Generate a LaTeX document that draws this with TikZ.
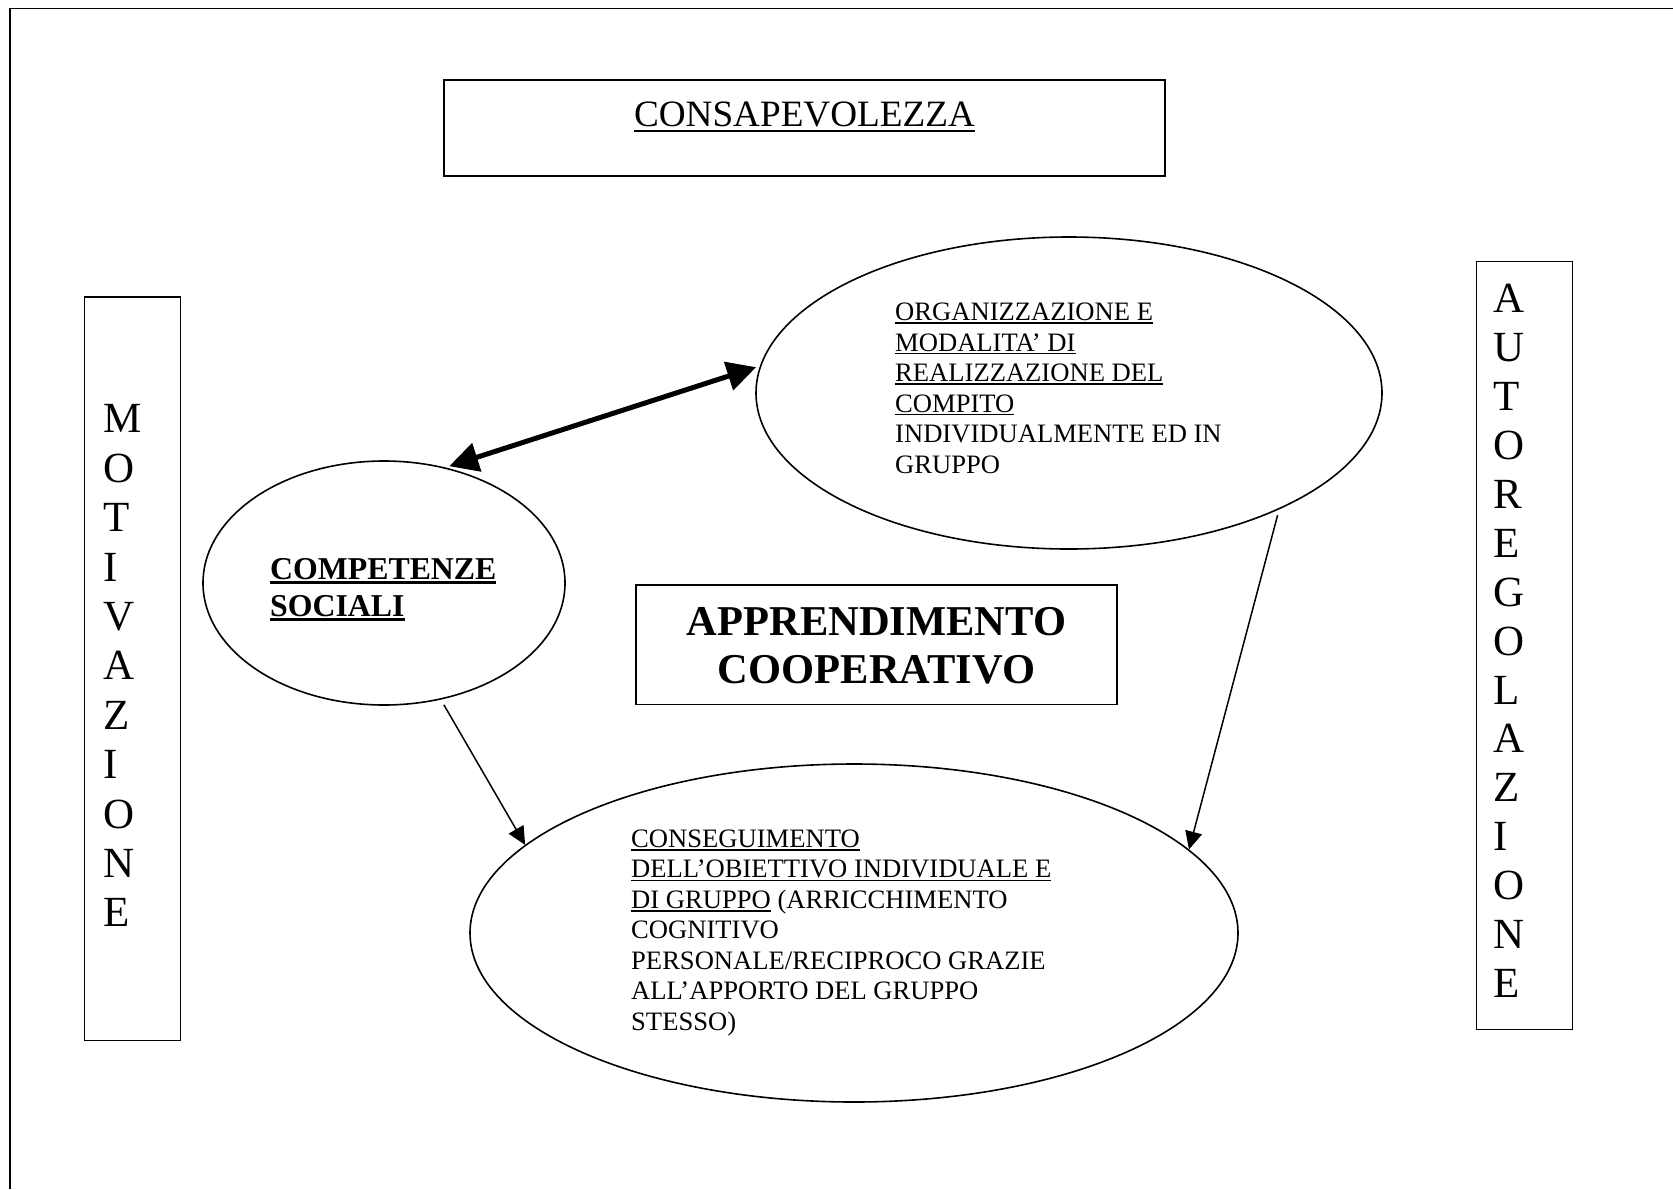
\documentclass[tikz,border=0pt]{standalone}
\usepackage{fontspec}
\setmainfont{Liberation Serif}
\usetikzlibrary{arrows.meta,shapes.geometric}
\newsavebox\ulsave
\newcommand{\ulx}[3]{\sbox\ulsave{#3}\rlap{\rule[-#1]{\wd\ulsave}{#2}}\usebox\ulsave}
\newcommand{\uls}[1]{\ulx{3.3pt}{1.7pt}{#1}}
\newcommand{\ulc}[1]{\ulx{5.3pt}{2.5pt}{#1}}
\newcommand{\ulb}[1]{\ulx{5pt}{3pt}{#1}}
\begin{document}
\begin{tikzpicture}[x=1pt,y=-1pt,
  boxst/.style={draw, line width=1.5pt, rectangle, inner sep=0pt},
  ell/.style={draw, line width=1.6pt, ellipse, inner sep=0pt},
  txt/.style={inner sep=0pt, align=left, anchor=north west,
    font=\fontsize{26.6}{30.5}\selectfont},
  vert/.style={inner sep=0pt, align=left, anchor=north west,
    font=\fontsize{43}{49.3}\selectfont},
  thinarrow/.style={line width=1.5pt, -{Triangle[length=18pt,width=17pt]}},
  thickarrow/.style={line width=5pt, {Triangle[length=29pt,width=29pt]}-{Triangle[length=29pt,width=29pt]}}
]
\useasboundingbox (0,0) rectangle (1673,1189);
% outer frame
\draw[line width=1.3pt] (10,1189) -- (10,8.5) -- (1673,8.5);

% boxes
\node[boxst, minimum width=721pt, minimum height=96pt] (consbox) at (804.5,128) {};
\node[inner sep=0pt, anchor=base, font=\fontsize{37.2}{42}\selectfont] (consT) at (804.5,126.7) {\ulc{CONSAPEVOLEZZA}};

\node[boxst, minimum width=96pt, minimum height=743.5pt] (motbox) at (132.3,668.5) {};
\node[vert, font=\fontsize{43}{49.4}\selectfont] (motT) at (103.5,404.5) {M\\O\\T\\I\\V\\A\\Z\\I\\O\\N\\E};

\node[boxst, minimum width=96pt, minimum height=768pt] (autbox) at (1524.7,645.5) {};
\node[vert, font=\fontsize{43}{48.9}\selectfont] (autT) at (1493.5,284.2) {A\\U\\T\\O\\R\\E\\G\\O\\L\\A\\Z\\I\\O\\N\\E};

\node[boxst, minimum width=481pt, minimum height=119.5pt] (appbox) at (876.5,644.5) {};
\node[inner sep=0pt, align=center, anchor=north, font=\fontsize{42.5}{48}\selectfont\bfseries] (appT) at (876.5,607.6) {APPRENDIMENTO\\COOPERATIVO};

% ellipses
\node[ell, minimum width=626pt, minimum height=312pt] (org) at (1069,393) {};
\node[txt] (orgT) at (895,302.7) {\uls{ORGANIZZAZIONE E}\\\uls{MODALITA’ DI}\\\uls{REALIZZAZIONE DEL}\\\uls{COMPITO}\\INDIVIDUALMENTE ED IN\\GRUPPO};

\node[ell, minimum width=362pt, minimum height=244pt] (comp) at (384,583) {};
\node[inner sep=0pt, align=left, anchor=north west, font=\fontsize{31.8}{37}\selectfont\bfseries] (compT) at (270,558) {\ulb{COMPETENZE}\\\ulb{SOCIALI}};

\node[ell, minimum width=768pt, minimum height=338pt] (cons) at (854,933) {};
\node[txt] (consgT) at (631,829.6) {\uls{CONSEGUIMENTO}\\\uls{DELL’OBIETTIVO INDIVIDUALE E}\\\uls{DI GRUPPO} (ARRICCHIMENTO\\COGNITIVO\\PERSONALE/RECIPROCO GRAZIE\\ALL’APPORTO DEL GRUPPO\\STESSO)};

% connectors
\draw[thickarrow, shorten <=4pt, shorten >=4pt] (comp.62.9) -- (org.175.6);
\draw[thinarrow, shorten <=6pt] (comp.-64) -- (cons.165.7);
\draw[thinarrow, shorten <=6pt] (org.-29) -- (cons.14.4);
\end{tikzpicture}
\end{document}
